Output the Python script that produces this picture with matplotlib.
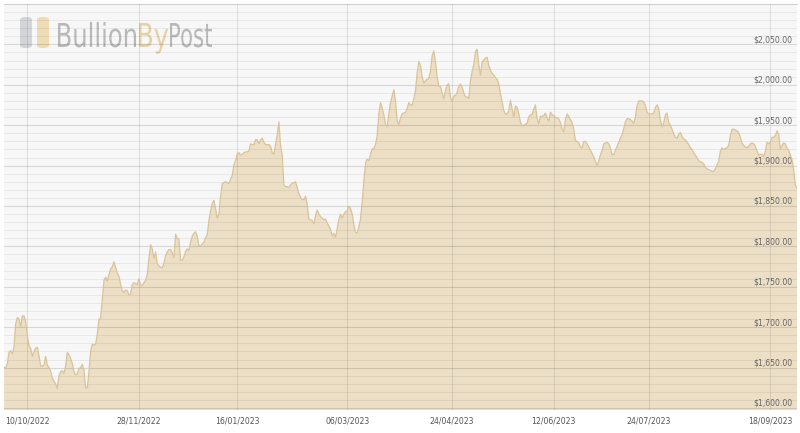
import numpy as np
import matplotlib
matplotlib.use("Agg")
import matplotlib.pyplot as plt
from matplotlib.patches import FancyBboxPatch, PathPatch
from matplotlib.textpath import TextPath
from matplotlib.font_manager import FontProperties
from matplotlib.transforms import Affine2D
from matplotlib.ticker import MultipleLocator, FixedLocator, FuncFormatter

# gold price (USD/oz), evenly spaced samples (x axis is index based)
prices_oct_dec = [
    1650, 1650, 1655, 1669, 1671, 1667, 1675, 1704, 1712, 1710, 1701, 1714, 1714, 1707,
    1690, 1677, 1674, 1664, 1670, 1674, 1675, 1665, 1652, 1652, 1653, 1664, 1653, 1650,
    1646, 1637, 1633, 1630, 1624, 1640, 1645, 1646, 1643, 1652, 1669, 1666, 1661, 1655,
    1645, 1641, 1642, 1649, 1650, 1654, 1647, 1625, 1625, 1645, 1670, 1679, 1678, 1679,
    1691, 1710, 1711, 1735, 1758, 1762, 1757, 1765, 1772, 1775, 1781, 1774, 1767, 1763,
    1753, 1745, 1743, 1746, 1745, 1740, 1741, 1753, 1755, 1754, 1753, 1760, 1752, 1752,
    1755, 1758, 1765, 1785, 1802, 1797, 1785, 1793, 1778, 1776, 1774, 1774, 1779,
]
prices_dec_mar = [
    1789, 1793, 1796, 1796, 1792, 1786, 1815, 1810, 1809, 1783, 1783, 1787, 1794, 1797,
    1795, 1805, 1813, 1816, 1818, 1813, 1801, 1801, 1803, 1805, 1811, 1814, 1832, 1844,
    1853, 1857, 1847, 1835, 1840, 1862, 1878, 1879, 1880, 1879, 1878, 1883, 1888, 1901,
    1906, 1915, 1916, 1913, 1914, 1916, 1917, 1917, 1918, 1927, 1926, 1926, 1932, 1932,
    1927, 1932, 1934, 1929, 1926, 1926, 1926, 1924, 1916, 1914, 1926, 1938, 1954, 1925,
    1913, 1876, 1874, 1874, 1873, 1876, 1878, 1879, 1880, 1873, 1865, 1861, 1858, 1858,
    1862, 1852, 1834, 1833, 1832, 1828, 1838, 1845, 1840, 1837, 1835, 1833, 1834, 1829,
]
prices_mar_may = [
    1825, 1821, 1813, 1816, 1811, 1822, 1833, 1840, 1835, 1840, 1843, 1844, 1850, 1847,
    1840, 1827, 1817, 1817, 1824, 1834, 1855, 1881, 1903, 1908, 1906, 1914, 1921, 1921,
    1926, 1937, 1964, 1978, 1971, 1963, 1951, 1948, 1964, 1978, 1986, 1994, 1980, 1955,
    1951, 1959, 1964, 1965, 1966, 1971, 1978, 1975, 1975, 1983, 1993, 2015, 2029, 2024,
    2010, 2002, 2005, 2007, 2008, 2017, 2036, 2042, 2028, 2010, 1998, 1998, 1990, 1983,
    1993, 2000, 2001, 1985, 1979, 1986, 1987, 1991, 1998, 2001, 1997, 1990, 1985, 1985,
    1983, 2005, 2017, 2025, 2041, 2044, 2025, 2012, 2028, 2031, 2033, 2034, 2024,
]
prices_may_jul = [
    2018, 2014, 2012, 2009, 2007, 2001, 1989, 1979, 1968, 1964, 1964, 1968, 1981, 1970,
    1960, 1974, 1972, 1964, 1954, 1949, 1950, 1951, 1953, 1960, 1963, 1963, 1970, 1975,
    1958, 1952, 1961, 1961, 1962, 1965, 1959, 1955, 1966, 1963, 1962, 1960, 1959, 1958,
    1953, 1945, 1942, 1957, 1964, 1961, 1957, 1953, 1945, 1931, 1930, 1928, 1923, 1922,
    1930, 1930, 1927, 1923, 1919, 1915, 1911, 1905, 1900, 1906, 1913, 1919, 1927, 1928,
    1929, 1927, 1922, 1913, 1914, 1919, 1924, 1929, 1934, 1938, 1946, 1954, 1958, 1958,
    1957, 1955, 1952, 1960, 1974, 1980, 1980, 1980, 1979,
]
prices_jul_sep = [
    1974, 1966, 1964, 1964, 1964, 1965, 1972, 1975, 1971, 1956, 1948, 1953, 1963, 1965,
    1953, 1950, 1945, 1939, 1935, 1934, 1939, 1941, 1936, 1933, 1932, 1929, 1926, 1922,
    1920, 1916, 1913, 1910, 1906, 1905, 1904, 1902, 1898, 1896, 1895, 1894, 1893, 1893,
    1896, 1901, 1905, 1918, 1922, 1920, 1921, 1922, 1925, 1937, 1945, 1945, 1944, 1943,
    1941, 1935, 1928, 1925, 1923, 1922, 1924, 1927, 1928, 1927, 1924, 1918, 1913, 1914,
    1914, 1911, 1918, 1929, 1927, 1929, 1935, 1935, 1937, 1943, 1939, 1920, 1925, 1928,
    1927, 1921, 1919, 1913, 1907, 1895, 1876, 1872,
]
prices = prices_oct_dec + prices_dec_mar + prices_mar_may + prices_may_jul + prices_jul_sep

tick_labels = ["10/10/2022", "28/11/2022", "16/01/2023", "06/03/2023",
               "24/04/2023", "12/06/2023", "24/07/2023", "18/09/2023"]
tick_index = [14, 81, 140, 206, 269, 330, 387, 460]
price_ticks = np.arange(1600, 2051, 50)

W, H = 800, 433
fig = plt.figure(figsize=(W / 100, H / 100), dpi=100)
ax = fig.add_axes([4 / W, 1 - 410 / H, 793 / W, 406 / H])
ax.set_facecolor("#f7f7f7")

x = np.arange(len(prices))
ax.fill_between(x, prices, 1500, color="#ecdfc6", lw=0, zorder=1)
ax.plot(x, prices, color="#d9c49a", lw=0.9, zorder=3)

ax.set_xlim(0, len(prices) - 1)
ax.set_ylim(1597.5, 2100)

# gridlines drawn over the fill
ax.set_axisbelow(False)
ax.yaxis.set_major_locator(FixedLocator(price_ticks))
ax.yaxis.set_minor_locator(MultipleLocator(10))
ax.xaxis.set_major_locator(FixedLocator(tick_index))
ax.set_xticklabels(tick_labels)
ax.yaxis.set_major_formatter(FuncFormatter(lambda v, p: f"${v:,.2f}"))
ax.grid(which="major", axis="y", color="black", alpha=0.13, lw=0.8)
ax.grid(which="minor", axis="y", color="black", alpha=0.06, lw=0.7)
ax.grid(which="major", axis="x", color="black", alpha=0.09, lw=0.8)

ax.yaxis.tick_right()
ax.tick_params(axis="y", which="both", length=0, pad=-3.5, labelsize=5.6, labelcolor="#666666")
ax.tick_params(axis="x", length=0, pad=5, labelsize=5.6, labelcolor="#555555")
for lab in ax.get_yticklabels():
    lab.set_horizontalalignment("right")
    lab.set_verticalalignment("bottom")

for side in ["left", "right", "bottom"]:
    ax.spines[side].set_visible(False)
ax.spines["top"].set_color("#dddddd")
ax.spines["top"].set_linewidth(0.8)

# watermark logo (drawn in pixel coords, squeezed to a condensed look)
for x0, col in [(20, "#cfd2d6"), (37, "#ecd9ad")]:
    ax.add_patch(FancyBboxPatch((x0 / W, 1 - 48 / H), 12 / W, 31 / H,
                                boxstyle="round,pad=0,rounding_size=0.006",
                                transform=fig.transFigure, fc=col, ec="none",
                                alpha=0.9, zorder=0.5))
fp = FontProperties(family="DejaVu Sans")
ref = TextPath((0, 0), "B", size=10, prop=fp).get_extents()
sy = 24 / ref.height
for txt, x0, x1, col in [("Bullion", 58, 136, "#b9b9b9"), ("By", 139, 168, "#e6d1a2"),
                         ("Post", 170, 212, "#b9b9b9")]:
    tp = TextPath((0, 0), txt, size=10, prop=fp)
    ext = tp.get_extents()
    sx = (x1 - x0) / ext.width
    tr = Affine2D().translate(-ext.x0, 0).scale(sx, sy).translate(x0, H - 47)
    ax.add_patch(PathPatch(tp, transform=tr, fc=col, ec="none", zorder=0.5))

fig.savefig("out.png", dpi=100)
